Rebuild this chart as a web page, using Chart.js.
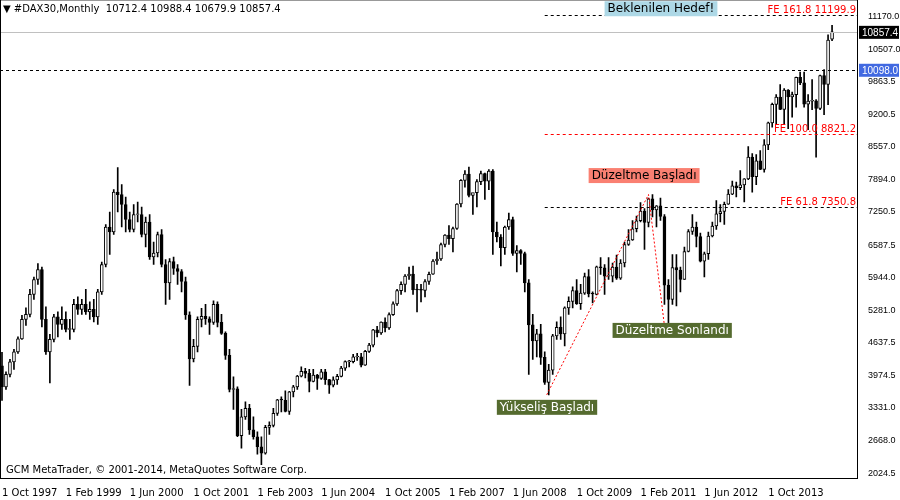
<!DOCTYPE html>
<html><head><meta charset="utf-8">
<script src="https://cdn.jsdelivr.net/npm/chart.js@4/dist/chart.umd.min.js"></script>
<style>html,body{margin:0;padding:0;background:#fff;overflow:hidden}#w{width:900px;height:500px;overflow:hidden}#c{display:block;margin-top:-8px}</style>
</head><body><div id="w"><canvas id="c" width="900" height="508"></canvas></div>
<script>
const opens=[4170,3750,4000,
4250,4450,4710,5100,5200,5600,5900,6100,5100,4450,4700,5150,
5000,5100,4900,4900,5400,5300,5400,5250,5300,5150,5650,6200,
6950,6850,7650,7600,7400,7100,6900,7200,7200,6800,7050,6350,
6430,6800,6200,5830,6260,6120,6060,5860,5190,4310,4560,5100,
5160,5110,5040,5400,5040,4820,4380,3700,3710,2770,3150,3320,
2890,2750,2550,2420,2940,2980,3220,3490,3480,3260,3650,3750,
3965,4060,4020,3860,3985,3920,4050,3895,3785,3890,3960,4125,
4255,4255,4350,4350,4185,4460,4585,4890,4830,5045,4930,5195,
5410,5675,5800,5970,6010,5690,5685,5680,5860,6005,6270,6310,
6600,6790,6715,6920,7410,7885,8010,7585,7640,7860,8020,7870,
8070,6850,6750,6535,6950,7100,6420,6480,6420,5830,4990,4670,
4810,4340,3840,4085,4770,4940,4810,5330,5460,5675,5415,5625,
5960,5610,5600,6155,6135,5965,5965,6150,5925,6230,6600,6690,
6915,7075,7270,7040,7515,7290,7375,7160,5785,5500,6140,6090,
5900,6460,6860,6950,6760,6265,6415,6770,6970,7215,7260,7405,
7610,7775,7740,7795,7915,8350,7960,8275,8105,8595,9035,9405,
9550,9305,9690,9555,9600,9945,9835,9410,9470,9475,9325,9980,
9805,10712];
const highs=[4440,4050,4300,
4500,4750,5180,5330,5700,5950,6220,6150,5350,4800,5200,5250,
5350,5250,5100,5500,5550,5500,5700,5450,5500,5700,6250,7000,
7250,7700,8140,7800,7550,7250,7400,7450,7350,7150,7200,6650,
6850,6900,6300,6320,6350,6200,6100,5950,5250,4700,5150,5320,
5400,5150,5470,5450,5200,4850,4500,3950,3750,3300,3450,3400,
3150,2850,2750,2980,3050,3320,3500,3550,3670,3660,3780,3980,
4150,4120,4100,4100,4000,4100,4100,3900,3950,4000,4160,4270,
4280,4400,4420,4420,4480,4620,4900,4960,5050,5130,5230,5450,
5700,5850,6000,6150,6170,5800,5800,5900,6050,6300,6450,6630,
6800,6980,6950,7420,7900,8080,8150,7600,7900,8070,8030,8100,
8100,7050,6800,6970,7230,7150,6580,6500,6450,5900,5200,4900,
5000,4450,4200,4800,5050,5150,5350,5550,5750,5900,5800,6030,
6100,5650,6170,6340,6200,6340,6230,6390,6300,6650,6900,7080,
7170,7440,7320,7530,7600,7380,7530,7200,5900,6400,6400,6150,
6550,6900,7200,7050,6830,6450,6850,7050,7480,7400,7450,7700,
7870,7850,8080,7920,8560,8420,8400,8480,8700,9050,9430,9600,
9800,9720,9700,9650,9950,10050,10050,9600,9900,9500,9990,10100,
10800,10988];
const lows=[3480,3700,3950,
4100,4420,4700,4980,5150,5500,5800,4950,4400,3830,4650,4750,
4900,4850,4700,4850,5200,5200,5200,5100,5050,5000,5600,6150,
6400,6800,7250,6950,6850,6850,6850,7050,6750,6550,6300,6200,
6350,6150,5400,5500,6000,5800,5650,5100,3780,4250,4450,4950,
5000,4800,5000,4950,4800,4300,3650,3300,2750,2520,3100,2800,
2700,2400,2190,2400,2800,2950,3180,3250,3250,3200,3550,3700,
3950,3930,3650,3850,3700,3900,3800,3620,3750,3800,3950,4080,
4150,4230,4280,4150,4180,4440,4550,4750,4800,4850,4900,5180,
5380,5600,5650,5900,5600,5250,5450,5550,5800,6000,6200,6280,
6550,6600,6450,6900,7350,7750,7550,7200,7350,7800,7500,7700,
6400,6650,6170,6400,6900,6380,6050,6200,5650,4000,4300,4350,
4200,3800,3590,4000,4700,4700,4570,5200,5330,5400,5300,5600,
5550,5430,5590,6000,5600,5900,5850,5900,5900,6150,6580,6680,
6850,7050,6500,6950,7150,6950,7080,5400,4970,5400,5370,5650,
5900,6450,6800,6550,6250,5950,6300,6750,6900,7050,7000,7400,
7600,7550,7700,7450,7900,7650,7800,8100,8050,8500,8950,9000,
9300,9000,8920,9150,9350,9800,9350,8900,9300,8350,9300,9200,
9400,10679];
const closes=[3750,4000,4250,
4450,4710,5100,5200,5600,5900,6100,5100,4450,4700,5150,5000,
5100,4900,4900,5400,5300,5400,5250,5300,5150,5650,6200,6950,
6850,7650,7600,7400,7100,6900,7200,7200,6800,7050,6350,6430,
6800,6200,5830,6260,6120,6060,5860,5190,4310,4560,5100,5160,
5110,5040,5400,5040,4820,4380,3700,3710,2770,3150,3320,2890,
2750,2550,2420,2940,2980,3220,3490,3480,3260,3650,3750,3965,
4060,4020,3860,3985,3920,4050,3895,3785,3890,3960,4125,4255,
4255,4350,4350,4185,4460,4585,4890,4830,5045,4930,5195,5410,
5675,5800,5970,6010,5690,5685,5680,5860,6005,6270,6310,6600,
6790,6715,6920,7410,7885,8010,7585,7640,7860,8020,7870,8070,
6850,6750,6535,6950,7100,6420,6480,6420,5830,4990,4670,4810,
4340,3840,4085,4770,4940,4810,5330,5460,5675,5415,5625,5960,
5610,5600,6155,6135,5965,5965,6150,5925,6230,6600,6690,6915,
7075,7270,7040,7515,7290,7375,7160,5785,5500,6140,6090,5900,
6460,6860,6950,6760,6265,6415,6770,6970,7215,7260,7405,7610,
7775,7740,7795,7915,8350,7960,8275,8105,8595,9035,9405,9550,
9305,9690,9555,9600,9945,9835,9410,9470,9475,9325,9980,9805,
10695,10857.4];
const monthNames=['Jan','Feb','Mar','Apr','May','Jun','Jul','Aug','Sep','Oct','Nov','Dec'];
const emptySlots=6;
const categories=Array.from({length:closes.length+emptySlots},(_,i)=>{const m=(9+i)%12,y=1997+Math.floor((9+i)/12);return '1 '+monthNames[m]+' '+y;});
const yTicks=[2024.5,2668.0,3331.0,3974.5,4637.5,5281.0,5944.0,6587.5,7250.5,7894.0,8557.0,9200.5,9863.5,10507.0,11170.0];
const levels=[
 {v:11199.9,label:'FE 161.8 11199.9',from:136,color:'#000'},
 {v:8821.2,label:'FE 100.0 8821.2',from:136,color:'#ff0000'},
 {v:7350.8,label:'FE 61.8 7350.8',from:136,color:'#000'}];
const lineLevel=10098.0, lastPrice=10857.4;
const notes=[
 {text:'Beklenilen Hedef!',i:151,v:11330,bg:'#add8e6',fg:'#000'},
 {text:'Düzeltme Başladı',i:147,v:7990,bg:'#fa8072',fg:'#000'},
 {text:'Düzeltme Sonlandı',i:153,v:4890,bg:'#556b2f',fg:'#fff'},
 {text:'Yükseliş Başladı',i:124,v:3350,bg:'#556b2f',fg:'#fff'}];
const trend=[[136.5,3590],[162,7600],[166,4970]];

const wick=closes.map((c,i)=>[lows[i],highs[i]]);
const body=closes.map((c,i)=>{let a=opens[i],b=c;if(Math.abs(a-b)<15)b=a+15;return [a,b];});
const bodyBg=closes.map((c,i)=>c>=opens[i]?'#fff':'#000');

const overlay={id:'ov',afterDraw(ch){
 const g=ch.ctx,x=ch.scales.x,y=ch.scales.y,a=ch.chartArea;
 const xp=v=>{const f=Math.floor(v);return x.getPixelForValue(f)+(v-f)*(x.getPixelForValue(f+1)-x.getPixelForValue(f));};
 g.save();
 g.font='10px "DejaVu Sans"';
 g.strokeStyle='#c0c0c0';g.lineWidth=1;g.setLineDash([]);
 let py=Math.round(y.getPixelForValue(lastPrice))+0.5;
 g.beginPath();g.moveTo(a.left,py);g.lineTo(a.right,py);g.stroke();
 g.strokeStyle='#000';g.setLineDash([3,3]);
 let ly=Math.round(y.getPixelForValue(lineLevel))+0.5;
 g.beginPath();g.moveTo(a.left,ly);g.lineTo(a.right,ly);g.stroke();
 levels.forEach(l=>{const yy=Math.round(y.getPixelForValue(l.v))+0.5;
  g.strokeStyle=l.color;g.beginPath();g.moveTo(xp(l.from),yy);g.lineTo(a.right,yy);g.stroke();
  g.setLineDash([]);g.fillStyle='#ff0000';g.textAlign='right';g.textBaseline='bottom';
  g.fillText(l.label,a.right-2,yy);g.setLineDash([3,3]);});
 g.strokeStyle='#ff0000';g.setLineDash([2,2]);g.beginPath();
 trend.forEach((p,k)=>{const px=xp(p[0]),pyy=y.getPixelForValue(p[1]);k?g.lineTo(px,pyy):g.moveTo(px,pyy);});
 g.stroke();g.setLineDash([]);
 g.font='12px "DejaVu Sans"';g.textAlign='left';g.textBaseline='middle';
 notes.forEach(n=>{const w=g.measureText(n.text).width+6;const px=xp(n.i),pyy=y.getPixelForValue(n.v);
  g.fillStyle=n.bg;g.fillRect(px,pyy-7,w,15);g.fillStyle=n.fg;g.fillText(n.text,px+3,pyy+1);});
 g.font='10px "Liberation Sans"';
 [[lastPrice,'#000','#fff','10857.4'],[lineLevel,'#4169e1','#fff','10098.0']].forEach(b=>{
  const yy=y.getPixelForValue(b[0]);g.fillStyle=b[1];g.fillRect(a.right+1,yy-6,40,13);
  g.fillStyle=b[2];g.fillText(b[3],a.right+4,yy+1);});
 g.strokeStyle='#000';g.lineWidth=1;g.strokeRect(a.left+0.5,a.top+0.5,a.right-a.left-1,a.bottom-a.top);
 g.fillStyle='#000';g.font='10px "DejaVu Sans"';
 g.fillText('▼ #DAX30,Monthly  10712.4 10988.4 10679.9 10857.4',a.left+3,a.top+10);
 g.fillText('GCM MetaTrader, © 2001-2014, MetaQuotes Software Corp.',a.left+6,a.bottom-8);
 g.restore();}};

new Chart(document.getElementById('c'),{
 type:'bar',
 data:{labels:categories,datasets:[
  {data:wick,backgroundColor:'#000',barThickness:1,grouped:false,order:2},
  {data:body,backgroundColor:bodyBg,borderColor:'#000',borderWidth:1,borderSkipped:false,barThickness:3,grouped:false,order:1}]},
 options:{responsive:false,animation:false,events:[],
  layout:{padding:{left:0,top:-12,right:0,bottom:0}},
  plugins:{legend:{display:false},tooltip:{enabled:false}},
  scales:{
   x:{offset:true,grid:{display:false,drawTicks:true},border:{display:false},
      ticks:{autoSkip:false,maxRotation:0,color:'#000',font:{size:10,family:'DejaVu Sans'},padding:1,align:'start',
       callback:(v,i)=>(i%16===0&&i<200)?categories[i]:null}},
   y:{position:'right',min:1925,max:11507,grid:{display:false},border:{display:false},
      afterBuildTicks:s=>{s.ticks=yTicks.map(v=>({value:v}));},
      afterFit:s=>{s.width=42;},
      ticks:{color:'#000',font:{size:9,family:'Liberation Sans'},padding:2,callback:v=>v.toFixed(1)}}}},
 plugins:[overlay]});
</script></body></html>
